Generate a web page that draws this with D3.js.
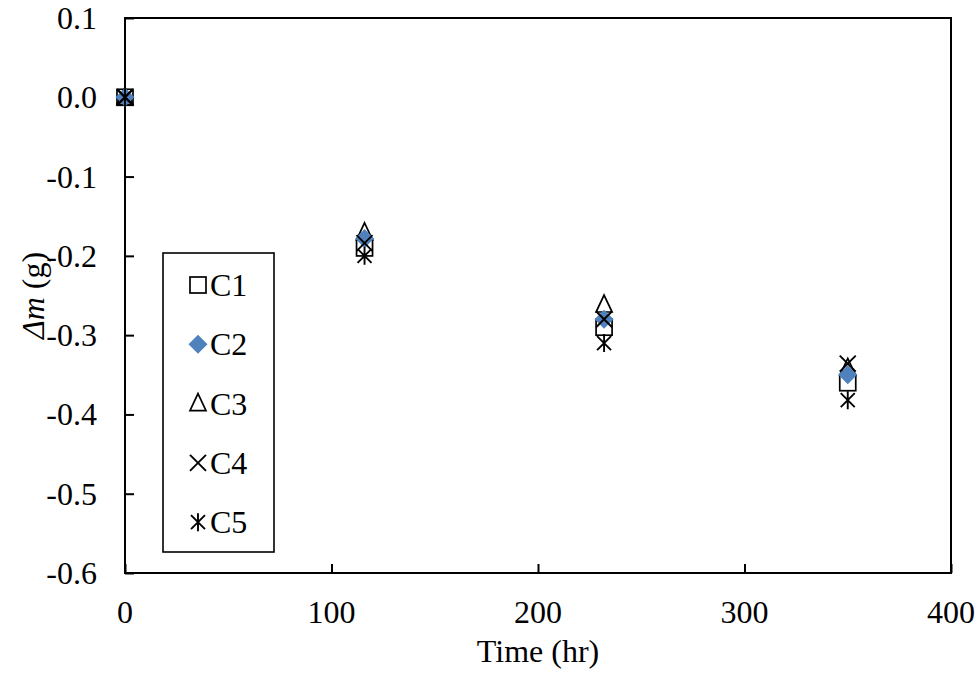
<!DOCTYPE html>
<html>
<head>
<meta charset="utf-8">
<script src="https://cdn.jsdelivr.net/npm/d3@7"></script>
<style>
  body { margin: 0; background: #fff; }
  text { font-family: "Liberation Serif", "Times New Roman", serif; fill: #000; }
</style>
</head>
<body>
<div id="chart"></div>
<script>
// data
var times = [0, 116, 232, 350];
var series = ["C1", "C2", "C3", "C4", "C5"];
var c1 = [0, -0.190, -0.290, -0.360];
var c2 = [0, -0.178, -0.280, -0.350];
var c3 = [0, -0.171, -0.262, -0.342];
var c4 = [0, -0.184, -0.280, -0.336];
var c5 = [0, -0.200, -0.310, -0.382];
var xTicks = [0, 100, 200, 300, 400];
var yTicks = [0.1, 0, -0.1, -0.2, -0.3, -0.4, -0.5, -0.6];

var width = 979, height = 675;
var margin = {top: 18, right: 28, bottom: 102, left: 125};
var fs = "32px";

var svg = d3.select("#chart").append("svg")
    .attr("width", width)
    .attr("height", height);

var x = d3.scaleLinear().domain([0, 400]).range([margin.left, width - margin.right]);
var y = d3.scaleLinear().domain([-0.6, 0.1]).range([height - margin.bottom, margin.top]);

// plot frame
svg.append("rect")
    .attr("x", x(0)).attr("y", y(0.1))
    .attr("width", x(400) - x(0)).attr("height", y(-0.6) - y(0.1))
    .attr("fill", "none").attr("stroke", "#000").attr("stroke-width", 2);

// ticks drawn inward
svg.append("g")
    .attr("transform", "translate(0," + y(-0.6) + ")")
    .call(d3.axisTop(x).tickValues(xTicks).tickSize(9).tickFormat(""));
svg.append("g")
    .attr("transform", "translate(" + x(0) + ",0)")
    .call(d3.axisRight(y).tickValues(yTicks).tickSize(9).tickFormat(""));
svg.selectAll(".domain").remove();
svg.selectAll(".tick line").attr("stroke", "#000").attr("stroke-width", 2);

// tick labels
svg.selectAll(".xlab").data(xTicks).enter().append("text")
    .attr("x", function(d) { return x(d); })
    .attr("y", y(-0.6) + 50)
    .attr("text-anchor", "middle")
    .style("font-size", fs)
    .text(function(d) { return d; });
svg.selectAll(".ylab").data(yTicks).enter().append("text")
    .attr("x", x(0) - 28)
    .attr("y", function(d) { return y(d) + 11; })
    .attr("text-anchor", "end")
    .style("font-size", fs)
    .text(function(d) { return d3.format(".1f")(d).replace("−", "-"); });

// axis titles
svg.append("text")
    .attr("x", x(200)).attr("y", 662)
    .attr("text-anchor", "middle")
    .style("font-size", fs)
    .text("Time (hr)");
var yt = svg.append("text")
    .attr("transform", "translate(44," + y(-0.25) + ") rotate(-90)")
    .attr("text-anchor", "middle")
    .style("font-size", fs);
yt.append("tspan").style("font-style", "italic").text("Δm");
yt.append("tspan").text(" (g)");

// marker drawing
function drawMarker(g, kind) {
  if (kind === "C1") {
    g.append("rect").attr("x", -8).attr("y", -8).attr("width", 16).attr("height", 16)
      .attr("fill", "none").attr("stroke", "#000").attr("stroke-width", 1.7);
  } else if (kind === "C2") {
    g.append("path").attr("d", "M0,-9.5L9.5,0L0,9.5L-9.5,0Z").attr("fill", "#4f81bd");
  } else if (kind === "C3") {
    g.append("path").attr("d", "M0,-10L8,7L-8,7Z")
      .attr("fill", "none").attr("stroke", "#000").attr("stroke-width", 1.7);
  } else if (kind === "C4") {
    g.append("path").attr("d", "M-8,-8L8,8M8,-8L-8,8")
      .attr("stroke", "#000").attr("stroke-width", 1.9);
  } else {
    g.append("path").attr("d", "M-7,-7L7,7M7,-7L-7,7M0,-9L0,9")
      .attr("stroke", "#000").attr("stroke-width", 1.9);
  }
}

var allData = [c1, c2, c3, c4, c5];
// draw order so C2 sits over C1/C3 like in the reference
[0, 2, 1, 3, 4].forEach(function(si) {
  allData[si].forEach(function(v, i) {
    var g = svg.append("g").attr("transform", "translate(" + x(times[i]) + "," + y(v) + ")");
    drawMarker(g, series[si]);
  });
});

// legend
var legend = svg.append("g").attr("transform", "translate(163,253)");
legend.append("rect").attr("width", 111).attr("height", 299)
    .attr("fill", "#fff").attr("stroke", "#000").attr("stroke-width", 1.6);
series.forEach(function(s, i) {
  var ly = 32 + i * 59.3;
  var g = legend.append("g").attr("transform", "translate(35," + ly + ")");
  drawMarker(g, s);
  legend.append("text").attr("x", 47).attr("y", ly + 11)
    .style("font-size", fs).text(s);
});
</script>
</body>
</html>
